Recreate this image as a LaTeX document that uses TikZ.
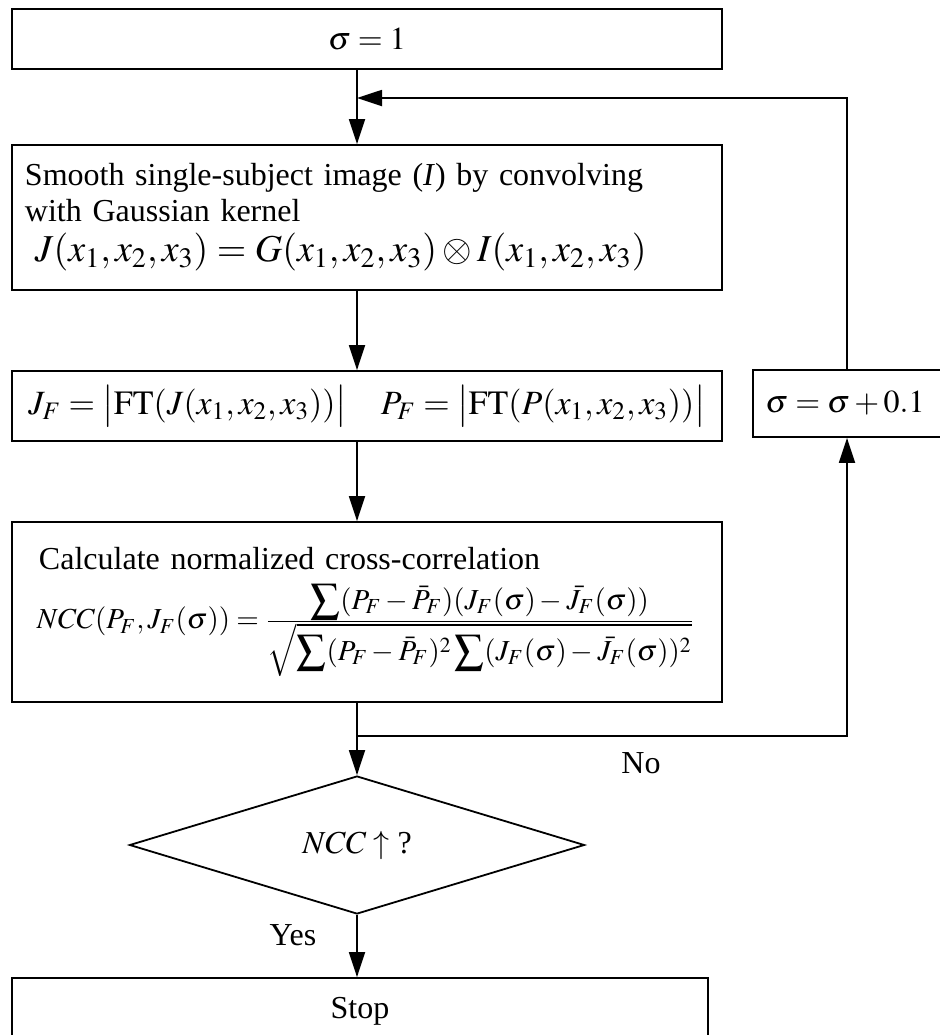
\documentclass[tikz,border=0pt]{standalone}
\usepackage{amsmath}
\usepackage{mathptmx}
\usepackage{fontspec}
\setmainfont{Liberation Serif}
\usetikzlibrary{arrows.meta, shapes.geometric, positioning}

\begin{document}
\begin{tikzpicture}[x=0.5pt, y=-0.5pt,
		every node/.style={font=\fontsize{16}{18}\selectfont},
		box/.style={draw, line width=0.9pt, rectangle, inner sep=0pt},
		decision/.style={draw, line width=0.9pt, diamond, inner sep=0pt,
			minimum width=227.5pt, minimum height=57pt},
		flow/.style={line width=0.9pt, -{Triangle[length=12.5pt, width=8pt]}}]
		
		\useasboundingbox (0,0) rectangle (939,1035);
		
		% Steps of the main column
		\node[box, minimum width=355pt, minimum height=30pt] (init) at (367,39) {$\sigma = 1$};
		\node[box, minimum width=355pt, minimum height=72.5pt, inner xsep=6.5pt,
			text width=342pt, align=left] (smooth) at (367,217.5)
			{Smooth single-subject image (\textit{I}) by convolving\\
				with Gaussian kernel\\[2pt]
				\hspace*{5pt}{\fontsize{19}{21}\selectfont
					$J(x_1,x_2,x_3) = G(x_1,x_2,x_3)\otimes I(x_1,x_2,x_3)$}};
		\node[box, minimum width=355pt, minimum height=35pt] (ft) at (367,406)
			{\fontsize{17}{19}\selectfont
				$J_F = \bigl|\mathrm{FT}(J(x_1,x_2,x_3))\bigr| \quad
				P_F = \bigl|\mathrm{FT}(P(x_1,x_2,x_3))\bigr|$};
		\node[box, minimum width=355pt, minimum height=90pt, inner xsep=13.5pt,
			text width=328pt, align=left] (ncc) at (367,612)
			{Calculate normalized cross-correlation\\[6pt]
				\hspace*{-1pt}\mbox{\fontsize{14.5}{16}\selectfont
					$NCC(P_F,J_F(\sigma)) = \frac{\displaystyle\sum(P_F-\bar{P}_F)(J_F(\sigma)-\bar{J}_F(\sigma))}
					{\displaystyle\sqrt{\sum(P_F-\bar{P}_F)^2\sum(J_F(\sigma)-\bar{J}_F(\sigma))^2}}$}%
				\rule[-19pt]{0pt}{0pt}};
		\node[decision] (test) at (357,845) {$NCC\uparrow$ ?};
		\node[box, minimum width=348pt, minimum height=33.5pt] (stop) at (360,1011.5) {Stop};
		
		% Update of sigma, right border runs off the page
		\node[box, minimum width=103.5pt, minimum height=33.5pt] (update) at (856.5,403.5)
			{$\sigma = \sigma + 0.1$\hspace*{11.5pt}};
		
		% Points of the loop
		\coordinate (merge) at (357,98);
		\coordinate (looptop) at (847,98);
		\coordinate (split) at (357,736);
		\coordinate (loopbot) at (847,736);
		
		% Connectors
		\draw[flow] (init.south -| merge) -- (smooth.north -| merge);
		\draw[flow] (update.north -| looptop) -- (looptop) -- (merge);
		\draw[flow] (smooth.south -| merge) -- (ft.north -| merge);
		\draw[flow] (ft.south -| merge) -- (ncc.north -| merge);
		\draw[flow] (ncc.south -| merge) -- (test.north);
		\draw[flow] (split) -- (loopbot) -- (update.south -| loopbot);
		\draw[flow] (test.south) -- (stop.north -| test);
		
		% Branch labels
		\node (no) at (641,763) {No};
		\node (yes) at (293,935) {Yes};
		
	\end{tikzpicture}
\end{document}
